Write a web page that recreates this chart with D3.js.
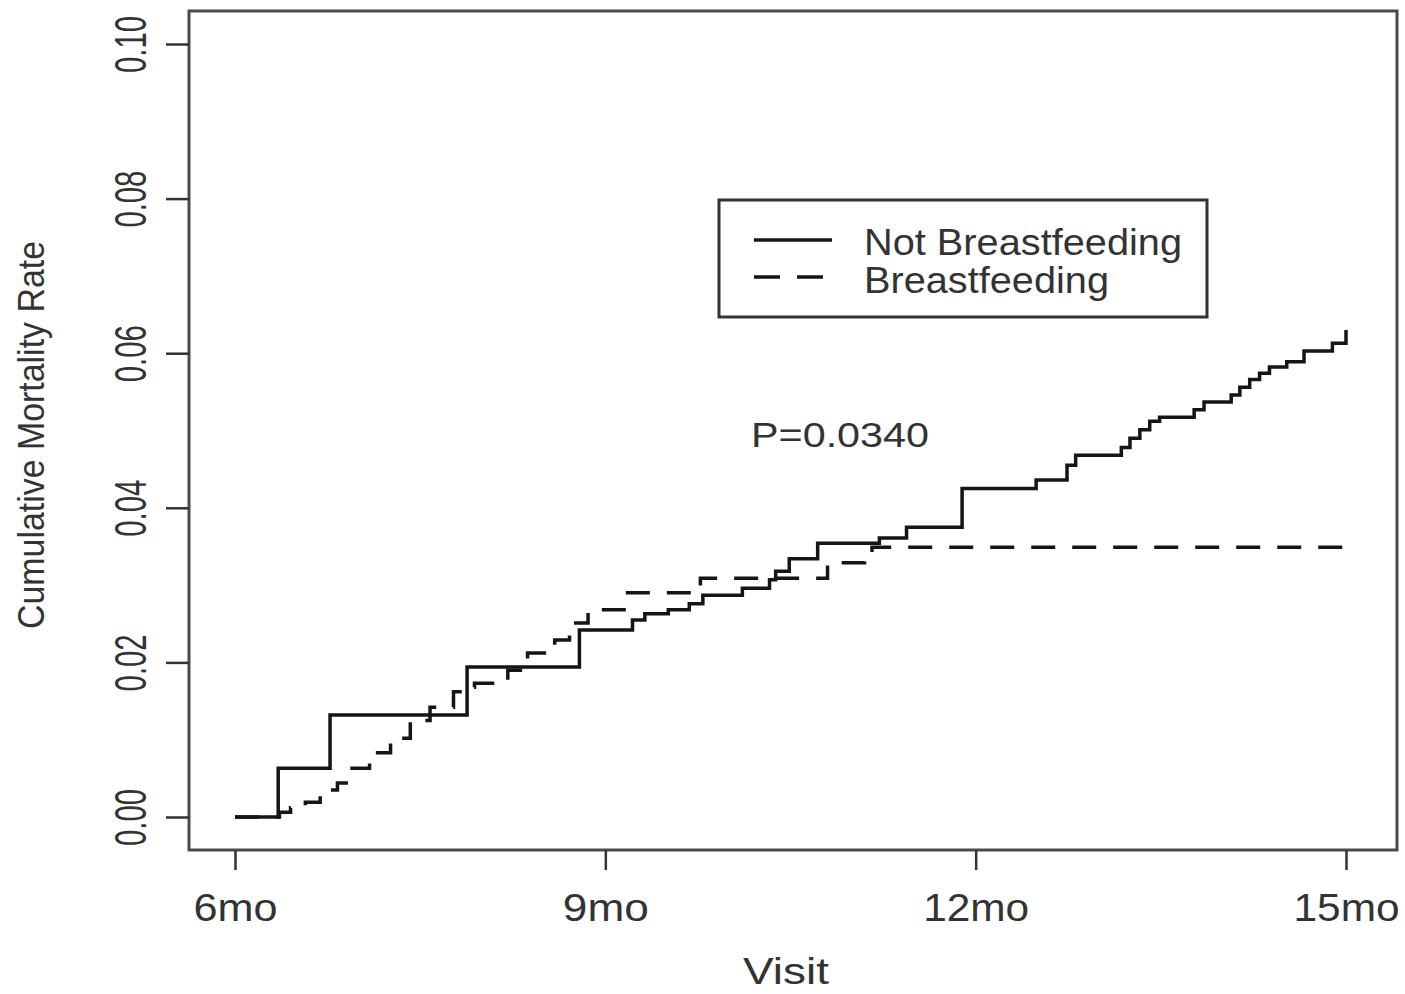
<!DOCTYPE html>
<html>
<head>
<meta charset="utf-8">
<script src="https://cdn.jsdelivr.net/npm/d3@7"></script>
<style>
  html, body { margin: 0; padding: 0; background: #fff; }
  svg { display: block; }
  text { font-family: "Liberation Sans", Arial, sans-serif; fill: #333; }
</style>
</head>
<body>
<svg id="chart" width="1405" height="994"></svg>
<script>
// ---- data ----
const xTickValues = [6, 9, 12, 15];
const xTickLabels = ["6mo", "9mo", "12mo", "15mo"];
const yTickValues = [0.00, 0.02, 0.04, 0.06, 0.08, 0.10];
const yTickLabels = ["0.00", "0.02", "0.04", "0.06", "0.08", "0.10"];

const seriesNames = ["Not Breastfeeding", "Breastfeeding"];

const notBfMonths = [6.00, 6.35, 6.77, 7.88, 8.79, 9.22, 9.32, 9.51, 9.68, 9.79, 10.11, 10.33, 10.38, 10.49, 10.72, 11.22, 11.44, 11.89, 12.49, 12.74, 12.81, 13.18, 13.25, 13.33, 13.41, 13.49, 13.77, 13.85, 14.07, 14.14, 14.22, 14.30, 14.38, 14.52, 14.66, 14.89, 15.00];
const notBfRates  = [0.0000, 0.0063, 0.0132, 0.0194, 0.0242, 0.0255, 0.0263, 0.0268, 0.0276, 0.0287, 0.0296, 0.0307, 0.0318, 0.0334, 0.0354, 0.0361, 0.0375, 0.0425, 0.0436, 0.0455, 0.0468, 0.0478, 0.0490, 0.0501, 0.0512, 0.0517, 0.0527, 0.0537, 0.0546, 0.0556, 0.0566, 0.0574, 0.0582, 0.0589, 0.0603, 0.0613, 0.0630];

const bfMonths = [6.00, 6.36, 6.45, 6.57, 6.69, 6.83, 6.93, 7.09, 7.26, 7.42, 7.58, 7.77, 7.84, 7.94, 8.21, 8.37, 8.59, 8.71, 8.86, 9.18, 9.77, 10.80, 11.10, 11.16, 15.00];
const bfRates  = [0.0000, 0.0006, 0.0012, 0.0019, 0.0035, 0.0044, 0.0063, 0.0083, 0.0102, 0.0125, 0.0142, 0.0162, 0.0168, 0.0173, 0.0190, 0.0212, 0.0229, 0.0251, 0.0268, 0.0290, 0.0309, 0.0329, 0.0345, 0.0349, 0.0349];

const pValueText = "P=0.0340";
const xTitle = "Visit";
const yTitle = "Cumulative Mortality Rate";

// ---- layout ----
const svg = d3.select("#chart");
const box = { left: 189, right: 1397, top: 11, bottom: 850 };

const x = d3.scaleLinear().domain([6, 15]).range([235, 1346]);
const y = d3.scaleLinear().domain([0, 0.10]).range([817, 44]);

const ink = "#151515";

// box
svg.append("rect")
  .attr("x", box.left).attr("y", box.top)
  .attr("width", box.right - box.left).attr("height", box.bottom - box.top)
  .attr("fill", "none").attr("stroke", "#4a4a4a").attr("stroke-width", 3);

// x axis
const xAxis = svg.append("g")
  .attr("transform", `translate(0,${box.bottom})`)
  .call(d3.axisBottom(x).tickValues(xTickValues)
        .tickFormat((d, i) => xTickLabels[i]).tickSize(20).tickSizeOuter(0));
xAxis.select(".domain").remove();
xAxis.selectAll(".tick line").attr("stroke", "#333").attr("stroke-width", 2.5);
xAxis.selectAll(".tick text")
  .attr("y", 71).attr("dy", 0)
  .attr("font-size", 38)
  .attr("textLength", (d, i) => [84, 86, 106, 106][i])
  .attr("lengthAdjust", "spacingAndGlyphs")
  .attr("fill", "#333");

// y axis
const yAxis = svg.append("g")
  .attr("transform", `translate(${box.left},0)`)
  .call(d3.axisLeft(y).tickValues(yTickValues)
        .tickFormat((d, i) => yTickLabels[i]).tickSize(23).tickSizeOuter(0));
yAxis.select(".domain").remove();
yAxis.selectAll(".tick line").attr("stroke", "#333").attr("stroke-width", 2.5);
yAxis.selectAll(".tick text")
  .attr("x", null).attr("dy", null)
  .attr("text-anchor", "middle")
  .attr("transform", "translate(-43,0) rotate(-90) scale(1,1.45)")
  .attr("font-size", 30)
  .attr("textLength", 57)
  .attr("lengthAdjust", "spacingAndGlyphs")
  .attr("fill", "#333");

// lines
const line = d3.line()
  .x(d => x(d[0])).y(d => y(d[1]))
  .curve(d3.curveStepAfter);

const notBf = notBfMonths.map((m, i) => [m, notBfRates[i]]);
const bf = bfMonths.map((m, i) => [m, bfRates[i]]);

svg.append("path").datum(bf)
  .attr("d", line).attr("fill", "none")
  .attr("stroke", ink).attr("stroke-width", 3.5)
  .attr("stroke-dasharray", "24,17");

svg.append("path").datum(notBf)
  .attr("d", line).attr("fill", "none")
  .attr("stroke", ink).attr("stroke-width", 3.5);

// legend
const lg = svg.append("g");
lg.append("rect")
  .attr("x", 719).attr("y", 200).attr("width", 488).attr("height", 117)
  .attr("fill", "#fff").attr("stroke", "#333").attr("stroke-width", 3);
lg.append("line").attr("x1", 754).attr("x2", 832).attr("y1", 240).attr("y2", 240)
  .attr("stroke", ink).attr("stroke-width", 3.5);
lg.append("line").attr("x1", 754).attr("x2", 824).attr("y1", 277).attr("y2", 277)
  .attr("stroke", ink).attr("stroke-width", 3.5).attr("stroke-dasharray", "26,17");
lg.append("text").attr("x", 864).attr("y", 255)
  .attr("font-size", 37).attr("textLength", 318).attr("lengthAdjust", "spacingAndGlyphs")
  .text(seriesNames[0]);
lg.append("text").attr("x", 864).attr("y", 293)
  .attr("font-size", 37).attr("textLength", 245).attr("lengthAdjust", "spacingAndGlyphs")
  .text(seriesNames[1]);

// p-value annotation
svg.append("text").attr("x", 751).attr("y", 447)
  .attr("font-size", 35).attr("textLength", 178).attr("lengthAdjust", "spacingAndGlyphs")
  .text(pValueText);

// axis titles
svg.append("text")
  .attr("x", 786).attr("y", 984).attr("text-anchor", "middle")
  .attr("font-size", 37).attr("textLength", 86).attr("lengthAdjust", "spacingAndGlyphs")
  .text(xTitle);

svg.append("text")
  .attr("transform", "translate(44,435) rotate(-90)")
  .attr("text-anchor", "middle")
  .attr("font-size", 37).attr("textLength", 388).attr("lengthAdjust", "spacingAndGlyphs")
  .text(yTitle);
</script>
</body>
</html>
